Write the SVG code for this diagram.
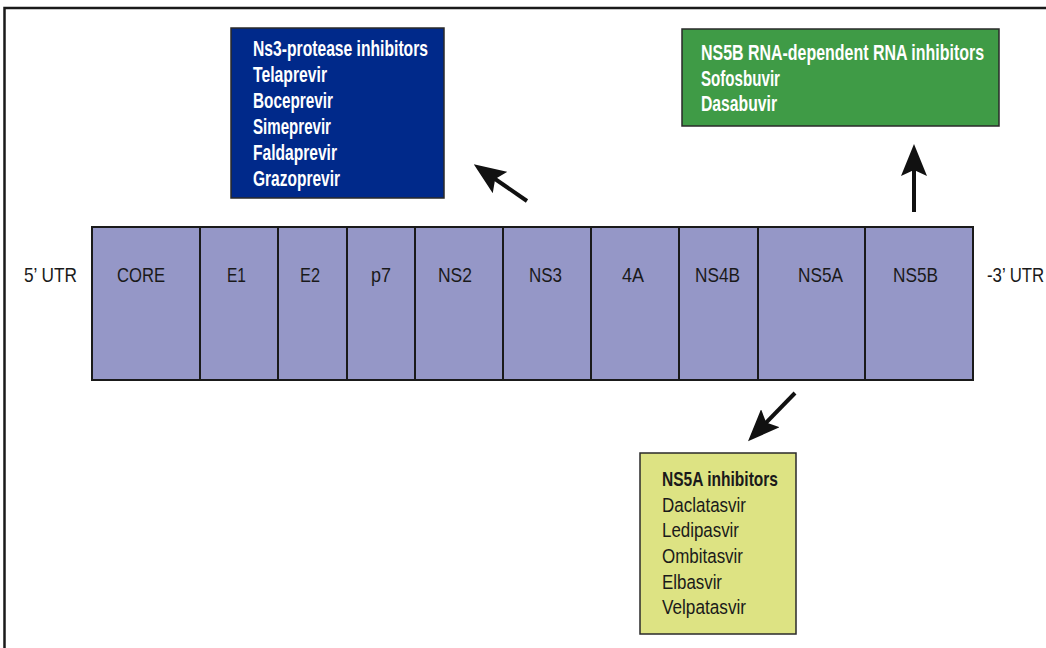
<svg xmlns="http://www.w3.org/2000/svg" width="1046" height="648" viewBox="0 0 1046 648">
<style>
  .frame{fill:#fff;stroke:#1a1a1a;stroke-width:2.5}
  .seg{fill:#9597c7;stroke:#1a1a1a;stroke-width:2}
  .box{stroke:#2a2a2a;stroke-width:1.5}
  .lbl{font-family:"Liberation Sans",Arial,sans-serif;font-size:21px;fill:#1a1a1a;text-anchor:middle}
  .utr{font-family:"Liberation Sans",Arial,sans-serif;font-size:21px;fill:#1a1a1a}
  .wt{font-family:"Liberation Sans",Arial,sans-serif;font-size:21.5px;font-weight:bold;fill:#fff}
  .bk{font-family:"Liberation Sans",Arial,sans-serif;font-size:20.5px;fill:#1a1a1a}
  .bkb{font-family:"Liberation Sans",Arial,sans-serif;font-size:20.5px;font-weight:bold;fill:#1a1a1a}
  .arrow{stroke:#111;stroke-width:4;fill:none;marker-end:url(#head)}
</style>
<defs>
  <marker id="head" viewBox="0 0 32 26" markerWidth="32" markerHeight="26" markerUnits="userSpaceOnUse" refX="22" refY="13" orient="auto">
    <path d="M0,0 L32,13 L0,26 L6,13 Z" fill="#111"/>
  </marker>
</defs>
<rect width="1046" height="648" fill="#fff"/>
<rect class="frame" x="4.5" y="8" width="1100" height="700"/>

<g id="genome">
  <rect class="seg" x="92" y="227" width="108" height="153"/>
  <rect class="seg" x="200" y="227" width="78" height="153"/>
  <rect class="seg" x="278" y="227" width="69" height="153"/>
  <rect class="seg" x="347" y="227" width="68" height="153"/>
  <rect class="seg" x="415" y="227" width="88" height="153"/>
  <rect class="seg" x="503" y="227" width="88" height="153"/>
  <rect class="seg" x="591" y="227" width="88" height="153"/>
  <rect class="seg" x="679" y="227" width="79" height="153"/>
  <rect class="seg" x="758" y="227" width="107" height="153"/>
  <rect class="seg" x="865" y="227" width="108" height="153"/>
  <text class="utr" x="24" y="282" textLength="53" lengthAdjust="spacingAndGlyphs">5’ UTR</text>
  <text class="lbl" x="141" y="282" textLength="48" lengthAdjust="spacingAndGlyphs">CORE</text>
  <text class="lbl" x="236.5" y="282" textLength="19" lengthAdjust="spacingAndGlyphs">E1</text>
  <text class="lbl" x="310" y="282" textLength="20" lengthAdjust="spacingAndGlyphs">E2</text>
  <text class="lbl" x="381" y="282" textLength="20" lengthAdjust="spacingAndGlyphs">p7</text>
  <text class="lbl" x="455" y="282" textLength="34" lengthAdjust="spacingAndGlyphs">NS2</text>
  <text class="lbl" x="545.5" y="282" textLength="33" lengthAdjust="spacingAndGlyphs">NS3</text>
  <text class="lbl" x="633" y="282" textLength="22" lengthAdjust="spacingAndGlyphs">4A</text>
  <text class="lbl" x="717.5" y="282" textLength="45" lengthAdjust="spacingAndGlyphs">NS4B</text>
  <text class="lbl" x="820.5" y="282" textLength="45" lengthAdjust="spacingAndGlyphs">NS5A</text>
  <text class="lbl" x="915.5" y="282" textLength="45" lengthAdjust="spacingAndGlyphs">NS5B</text>
  <text class="utr" transform="translate(987,282) scale(0.8,1)" x="0" y="0">-3’ UTR</text>
</g>

<g id="ns3-inhibitors">
  <rect class="box" x="231" y="28" width="213" height="170" fill="#00298a"/>
  <text class="wt" x="253" y="56" textLength="175" lengthAdjust="spacingAndGlyphs">Ns3-protease inhibitors</text>
  <text class="wt" x="253" y="82" textLength="74" lengthAdjust="spacingAndGlyphs">Telaprevir</text>
  <text class="wt" x="253" y="108" textLength="80" lengthAdjust="spacingAndGlyphs">Boceprevir</text>
  <text class="wt" x="253" y="134" textLength="78" lengthAdjust="spacingAndGlyphs">Simeprevir</text>
  <text class="wt" x="253" y="160" textLength="84" lengthAdjust="spacingAndGlyphs">Faldaprevir</text>
  <text class="wt" x="253" y="186" textLength="87" lengthAdjust="spacingAndGlyphs">Grazoprevir</text>
</g>

<g id="ns5b-inhibitors">
  <rect class="box" x="682" y="29" width="317" height="97" fill="#3f9b46"/>
  <text class="wt" transform="translate(701,60) scale(0.741,1)" x="0" y="0" textLength="382" lengthAdjust="spacingAndGlyphs">NS5B RNA-dependent RNA inhibitors</text>
  <text class="wt" x="701" y="86" textLength="79" lengthAdjust="spacingAndGlyphs">Sofosbuvir</text>
  <text class="wt" x="701" y="111" textLength="76" lengthAdjust="spacingAndGlyphs">Dasabuvir</text>
</g>

<g id="ns5a-inhibitors">
  <rect class="box" x="640" y="453" width="156" height="181" fill="#dde383"/>
  <text class="bkb" x="662" y="486" textLength="116" lengthAdjust="spacingAndGlyphs">NS5A inhibitors</text>
  <text class="bk" x="662" y="512" textLength="84" lengthAdjust="spacingAndGlyphs">Daclatasvir</text>
  <text class="bk" x="662" y="537" textLength="77" lengthAdjust="spacingAndGlyphs">Ledipasvir</text>
  <text class="bk" x="662" y="563" textLength="81" lengthAdjust="spacingAndGlyphs">Ombitasvir</text>
  <text class="bk" x="662" y="589" textLength="60" lengthAdjust="spacingAndGlyphs">Elbasvir</text>
  <text class="bk" x="662" y="614" textLength="84" lengthAdjust="spacingAndGlyphs">Velpatasvir</text>
</g>

<g id="connectors">
  <line class="arrow" x1="527" y1="201" x2="482" y2="170"/>
  <line class="arrow" x1="914" y1="212" x2="914" y2="154"/>
  <line class="arrow" x1="795" y1="393" x2="755" y2="434"/>
</g>
</svg>
